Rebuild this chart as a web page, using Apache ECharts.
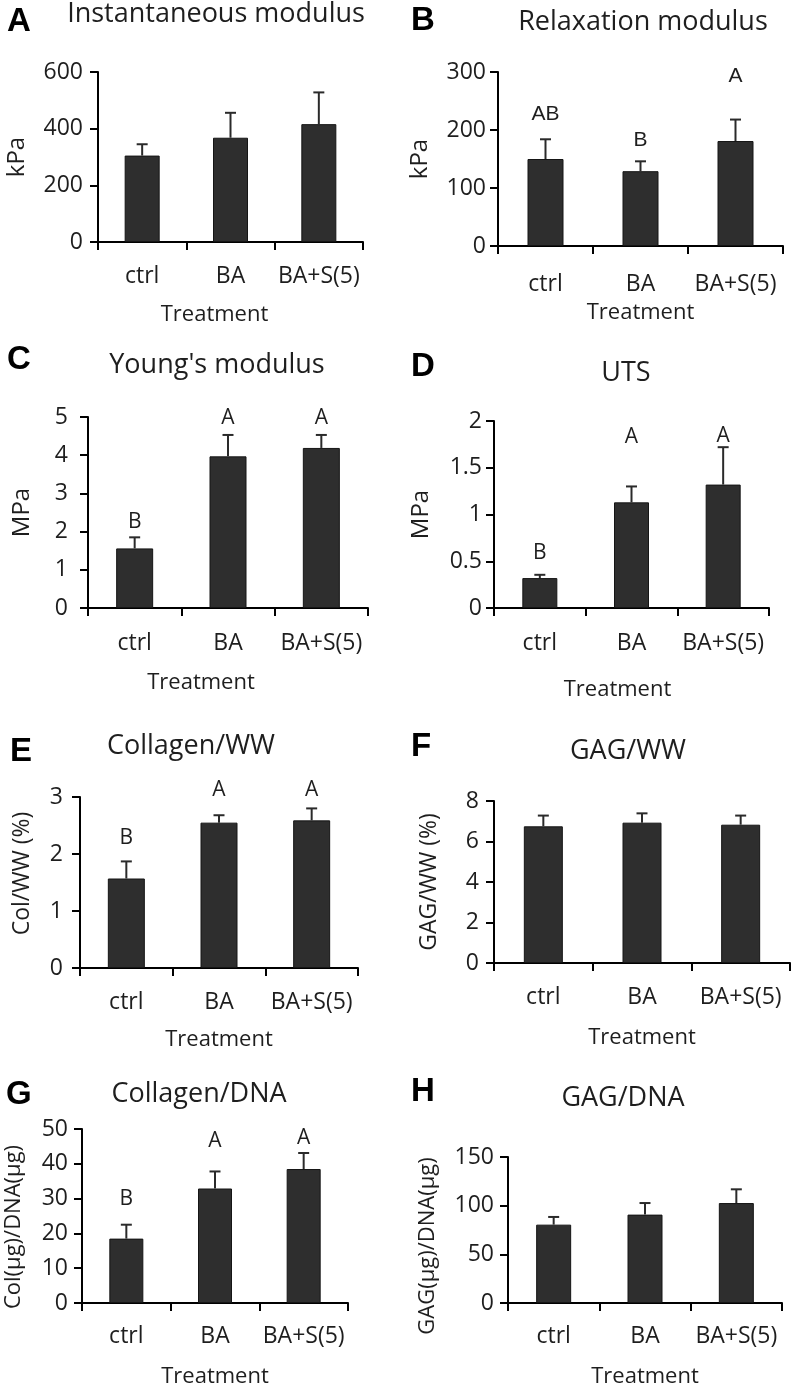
<!DOCTYPE html>
<html><head><meta charset="utf-8">
<script src="https://cdn.jsdelivr.net/npm/echarts@6/dist/echarts.min.js"></script>
<style>html,body{margin:0;padding:0;background:#fff}#c{width:792px;height:1386px}</style>
</head><body><div id="c"></div>
<script>
// ---------------- DATA ----------------
const categories = ['ctrl', 'BA', 'BA+S(5)'];
const panelLetters = ['A', 'B', 'C', 'D', 'E', 'F', 'G', 'H'];
const panelTitles = ['Instantaneous modulus', 'Relaxation modulus', "Young's modulus", 'UTS',
  'Collagen/WW', 'GAG/WW', 'Collagen/DNA', 'GAG/DNA'];
const yAxisNames = ['kPa', 'kPa', 'MPa', 'MPa', 'Col/WW (%)', 'GAG/WW (%)', 'Col(μg)/DNA(μg)', 'GAG(μg)/DNA(μg)'];
const xAxisName = 'Treatment';
const yAxisMax = [600, 300, 5, 2, 3, 8, 50, 150];
const yAxisStep = [200, 100, 1, 0.5, 1, 2, 10, 50];

const instantaneousMean = [305, 368, 416];
const instantaneousErr = [40, 88, 112];

const relaxationMean = [150, 129, 181];
const relaxationErr = [34, 17, 37];
const relaxationLetters = ['AB', 'B', 'A'];
const relaxationLetterY = [227, 182, 292];

const youngsMean = [1.56, 3.97, 4.19];
const youngsErr = [0.29, 0.56, 0.34];
const youngsLetters = ['B', 'A', 'A'];
const youngsLetterY = [2.26, 4.97, 4.97];

const utsMean = [0.32, 1.13, 1.32];
const utsErr = [0.035, 0.17, 0.40];
const utsLetters = ['B', 'A', 'A'];
const utsLetterY = [0.59, 1.83, 1.84];

const colWwMean = [1.57, 2.55, 2.59];
const colWwErr = [0.30, 0.13, 0.21];
const colWwLetters = ['B', 'A', 'A'];
const colWwLetterY = [2.28, 3.13, 3.13];

const gagWwMean = [6.75, 6.93, 6.83];
const gagWwErr = [0.53, 0.46, 0.45];

const colDnaMean = [18.5, 32.9, 38.5];
const colDnaErr = [4.0, 4.9, 4.6];
const colDnaLetters = ['B', 'A', 'A'];
const colDnaLetterY = [29.9, 46.5, 47.4];

const gagDnaMean = [80.5, 90.8, 102.7];
const gagDnaErr = [7.9, 11.9, 14.1];

const means = [instantaneousMean, relaxationMean, youngsMean, utsMean, colWwMean, gagWwMean, colDnaMean, gagDnaMean];
const errs = [instantaneousErr, relaxationErr, youngsErr, utsErr, colWwErr, gagWwErr, colDnaErr, gagDnaErr];
const letters = [null, relaxationLetters, youngsLetters, utsLetters, colWwLetters, null, colDnaLetters, null];
const letterY = [null, relaxationLetterY, youngsLetterY, utsLetterY, colWwLetterY, null, colDnaLetterY, null];

// ---------------- LAYOUT / STYLE ----------------
const grids = [
  {left: 98, top: 72, width: 265, height: 170},
  {left: 498, top: 72, width: 285, height: 174},
  {left: 88, top: 417, width: 280, height: 191},
  {left: 494, top: 421, width: 275, height: 187},
  {left: 80, top: 797, width: 278, height: 171},
  {left: 494, top: 801, width: 296, height: 162},
  {left: 82, top: 1129, width: 266, height: 174},
  {left: 508, top: 1157, width: 274, height: 146}
];
const barW = [35, 36, 37, 35, 37, 39, 34, 35];
const yLabelMargin = [15, 12, 20, 12, 17, 15, 14, 14];
const xLabelMargin = [23, 27, 24, 24, 23, 23, 22, 22];
const xNameGap = [62, 56, 64, 71, 61, 64, 63, 63];
const xNamePad = [[0, 32, 0, 0], 0, [0, 54, 0, 0], [0, 28, 0, 0], 0, 0, 0, 0];
const yNameGap = [69, 66, 54, 61, 46, 53, 57, 69];
const yNameSize = [24, 24, 24, 24, 23, 23, 22, 22];
const yNamePad = [0, 0, 0, 0, [0, 0, 0, 18], 0, [0, 22, 0, 0], [0, 32, 0, 0]];
const letterPos = [[7, 21.5], [411, 20.5], [7, 360], [411, 366.5], [10, 752], [411, 746.5], [6, 1095], [411, 1091.5]];
const titlePos = [[216, 14], [643, 22.5], [217, 365], [626, 373], [191, 746], [628, 751], [199, 1094], [623, 1098]];

const FONT = '"Open Sans", Lato, sans-serif';
const TXT = '#1e1e1e';

const option = {
  animation: false,
  backgroundColor: '#fff',
  grid: [], xAxis: [], yAxis: [], series: [], graphic: []
};

for (let i = 0; i < 8; i++) {
  option.grid.push(Object.assign({outerBoundsMode: 'none', containLabel: false}, grids[i]));
  option.xAxis.push({
    type: 'category', gridIndex: i, data: categories,
    name: xAxisName, nameLocation: 'middle', nameGap: xNameGap[i],
    nameTextStyle: {fontFamily: FONT, fontSize: 22, color: TXT, padding: xNamePad[i]},
    axisLine: {lineStyle: {color: '#000', width: 2}},
    axisTick: {show: true, length: 8, interval: 0, lineStyle: {color: '#000', width: 2}},
    axisLabel: {interval: 0, margin: xLabelMargin[i], fontFamily: FONT, fontSize: 23, color: TXT},
    splitLine: {show: false}
  });
  option.yAxis.push({
    type: 'value', gridIndex: i, min: 0, max: yAxisMax[i], interval: yAxisStep[i],
    name: yAxisNames[i], nameLocation: 'middle', nameGap: yNameGap[i],
    nameTextStyle: {fontFamily: FONT, fontSize: yNameSize[i], color: TXT, padding: yNamePad[i]},
    axisLine: {show: true, lineStyle: {color: '#000', width: 2}},
    axisTick: {show: true, length: 8, lineStyle: {color: '#000', width: 2}},
    axisLabel: {margin: yLabelMargin[i], fontFamily: FONT, fontSize: 23, color: TXT},
    splitLine: {show: false}
  });
  option.series.push({
    type: 'bar', xAxisIndex: i, yAxisIndex: i, data: means[i], barWidth: barW[i],
    itemStyle: {color: '#2e2e2e', borderColor: '#151515', borderWidth: 1}, z: 2
  });
  const m = means[i], e = errs[i];
  option.series.push({
    type: 'custom', xAxisIndex: i, yAxisIndex: i, clip: false, z: 3,
    data: m.map((v, k) => [k, v, e[k]]),
    encode: {x: 0, y: 1},
    renderItem: function (params, api) {
      const x = api.value(0), mv = api.value(1), ev = api.value(2);
      const p0 = api.coord([x, mv]);
      const p1 = api.coord([x, mv + ev]);
      const hw = 5.5;
      return {type: 'group', children: [
        {type: 'line', shape: {x1: p0[0], y1: p0[1], x2: p1[0], y2: p1[1]}, style: {stroke: '#2a2a2a', lineWidth: 2}},
        {type: 'line', shape: {x1: p1[0] - hw, y1: p1[1], x2: p1[0] + hw, y2: p1[1]}, style: {stroke: '#2a2a2a', lineWidth: 2}}
      ]};
    }
  });
  if (letters[i]) {
    const L = letters[i], LY = letterY[i];
    const lf = (i === 1) ? '"Liberation Sans", Arial, sans-serif' : FONT;
    option.series.push({
      type: 'custom', xAxisIndex: i, yAxisIndex: i, clip: false, z: 4,
      data: LY.map((v, k) => [k, v]),
      encode: {x: 0, y: 1},
      renderItem: function (params, api) {
        const p = api.coord([api.value(0), api.value(1)]);
        return {type: 'text', x: p[0], y: p[1], style: {
          text: L[params.dataIndex], fontFamily: lf, fontSize: 21, fill: TXT,
          align: 'center', verticalAlign: 'middle'}};
      }
    });
  }
  option.graphic.push({
    type: 'text', x: letterPos[i][0], y: letterPos[i][1],
    style: {text: panelLetters[i], fontFamily: '"Liberation Sans", Arial, sans-serif', fontWeight: 'bold',
      fontSize: 33, fill: '#000', align: 'left', verticalAlign: 'middle'}
  });
  option.graphic.push({
    type: 'text', x: titlePos[i][0], y: titlePos[i][1],
    style: {text: panelTitles[i], fontFamily: FONT, fontSize: 27, fill: TXT,
      align: 'center', verticalAlign: 'middle'}
  });
}

const chart = echarts.init(document.getElementById('c'), null, {renderer: 'canvas'});
chart.setOption(option);
</script>
</body></html>
